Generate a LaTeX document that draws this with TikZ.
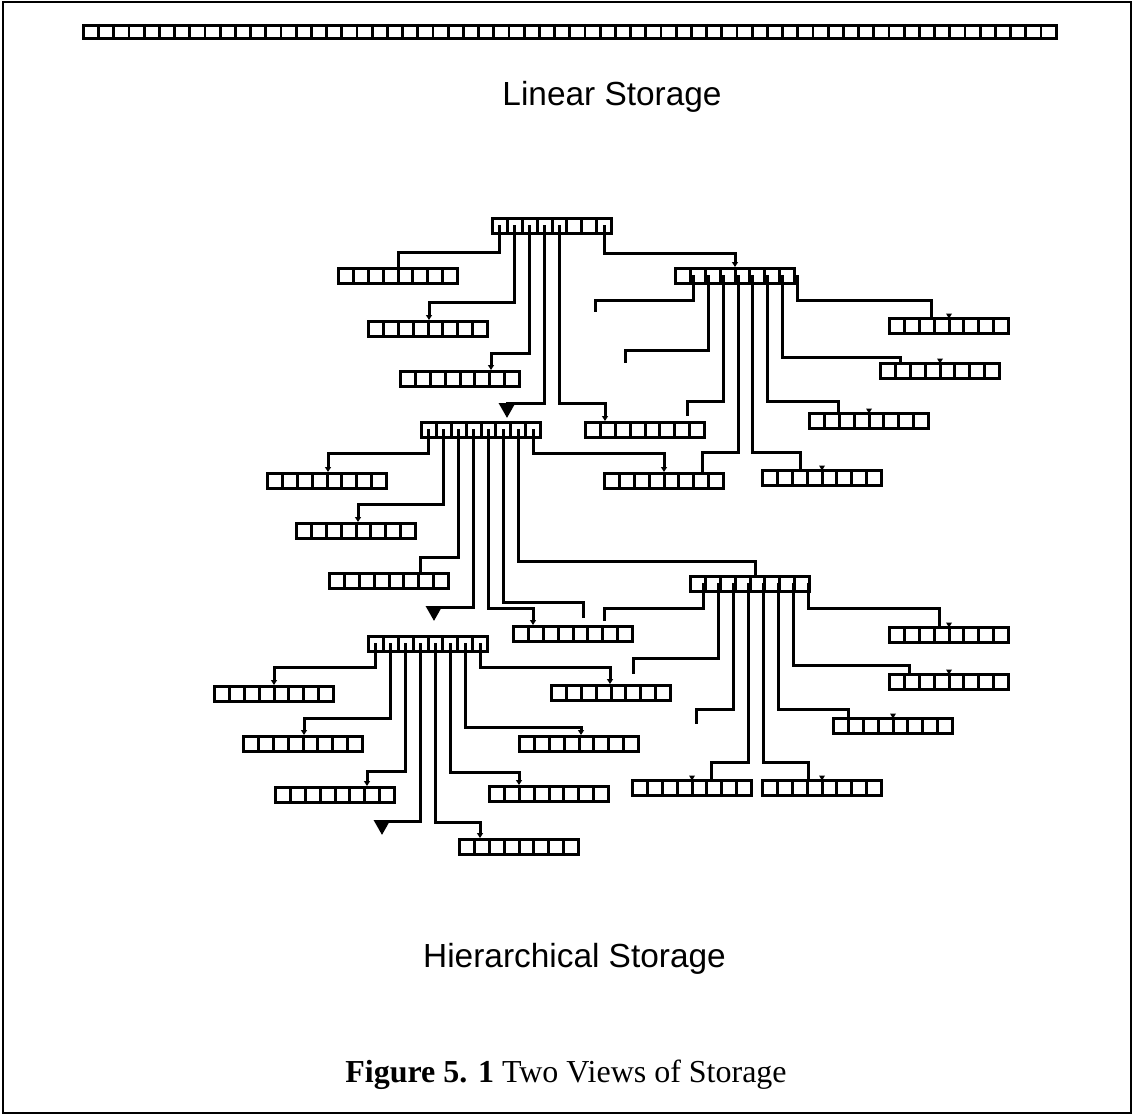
\documentclass[tikz,border=0pt]{standalone}
\usepackage{fontspec}
\setmainfont{Liberation Serif}
\newfontfamily\arialfont{Liberation Sans}
\usetikzlibrary{arrows.meta,calc}

\newcommand{\membox}[4]{%
  \node[memcell] (#1) at (#2,#3) {};
  \foreach \i in {1,...,7}
    \draw[wire] ([xshift=1.5pt+\i*14.875pt]#1.north west) -- ([xshift=1.5pt+\i*14.875pt]#1.south west);
  \foreach \i in {1,...,8}
    \coordinate (#1-\i) at ([xshift=1.5pt+\i*14.875pt-7.4pt+#4pt,yshift=-8pt]#1.north west);
}
\newcommand{\arrowmark}[1]{\fill ([xshift=61pt,yshift=-1.5pt]#1.north west) -- ++(-3,-5) -- ++(6,0) -- cycle;}

\begin{document}
\begin{tikzpicture}[x=1pt,y=-1pt,
  memcell/.style={draw,line width=3pt,minimum width=119pt,minimum height=15pt,
                  inner sep=0pt,outer sep=1.5pt,anchor=north west},
  wire/.style={line width=3pt},
  link/.style={line width=3pt},
  tip/.style={link,-{Triangle[length=5pt,width=6pt]}},
  bigtip/.style={link,-{Triangle[length=15pt,width=16pt]}},
  title/.style={font=\arialfont\fontsize{33.4}{40}\selectfont,anchor=base}]
\useasboundingbox (0,0) rectangle (1134,1116);
\draw[line width=1.5pt] (3,2) rectangle (1131,1113);

\node[draw,line width=2.8pt,minimum width=973pt,minimum height=13pt,
      inner sep=0pt,outer sep=1.4pt,anchor=north west] (strip) at (82,24) {};
\foreach \i in {1,...,63}
  \draw[line width=2.8pt] ([xshift=1.4pt+\i*15.2pt]strip.north west) -- ([xshift=1.4pt+\i*15.2pt]strip.south west);
\node[title] (lin) at (612,105) {Linear Storage};

\membox{top}{491}{217}{0}
\membox{topR}{674}{267}{10.5}
\membox{mid}{420}{421}{0}
\membox{midR}{689}{575}{6}
\membox{low}{367}{635}{0}
\membox{b1}{337}{267}{0}
\membox{b2}{367}{320}{0}
\membox{b3}{399}{370}{0}
\membox{b4}{584}{421}{0}
\membox{b5}{603}{472}{0}
\membox{b6}{761}{469}{0}
\membox{b7}{808}{412}{0}
\membox{b8}{879}{362}{0}
\membox{b9}{888}{317}{0}
\membox{b10}{266}{472}{0}
\membox{b11}{295}{522}{0}
\membox{b12}{328}{572}{0}
\membox{b13}{512}{625}{0}
\membox{b14}{550}{684}{0}
\membox{b15}{631}{779}{0}
\membox{b16}{761}{779}{0}
\membox{b17}{832}{717}{0}
\membox{b18}{888}{673}{0}
\membox{b19}{888}{626}{0}
\membox{b20}{213}{685}{0}
\membox{b21}{242}{735}{0}
\membox{b22}{274}{786}{0}
\membox{b23}{458}{838}{0}
\membox{b24}{488}{785}{0}
\membox{b25}{518}{735}{0}

\coordinate (d1) at (595,312);
\coordinate (d2) at (625,363);
\coordinate (d3) at (687,416);
\coordinate (d4) at (583,618);
\coordinate (d5) at (604,621);
\coordinate (d6) at (633,674);
\coordinate (d7) at (696,724);
\coordinate (d8) at (382,835);

\draw[link] (top-1) |- (398,252) -- (398,252 |- b1.north);
\draw[tip] (top-2) |- (429,302) -- (429,302 |- b2.north);
\draw[tip] (top-3) |- (491,353) -- (491,353 |- b3.north);
\draw[bigtip,shorten >=3pt] (top-4) |- (507,403) -- (507,403 |- mid.north);
\draw[tip] (top-5) |- (605,403) -- (605,403 |- b4.north);
\draw[tip] (top-8) |- (735,253) -- (735,253 |- topR.north);

\draw[link] (topR-1) |- (595,300) -- (d1);
\draw[link] (topR-2) |- (625,350) -- (d2);
\draw[link] (topR-3) |- (687,401) -- (d3);
\draw[link] (topR-4) |- (702,452) -- (702,452 |- b5.north);
\draw[link] (topR-5) |- (800,452) -- (800,452 |- b6.north);
\draw[link] (topR-6) |- (838,401) -- (838,401 |- b7.north);
\draw[link] (topR-7) |- (900,357) -- (900,357 |- b8.north);
\draw[link] (topR-8) |- (931,300) -- (931,300 |- b9.north);

\draw[tip] (mid-1) |- (328,453) -- (328,453 |- b10.north);
\draw[tip] (mid-2) |- (358,504) -- (358,504 |- b11.north);
\draw[link] (mid-3) |- (420,557) -- (420,557 |- b12.north);
\draw[bigtip,shorten >=14pt] (mid-4) |- (434,607) -- (434,607 |- low.north);
\draw[tip] (mid-5) |- (533,608) -- (533,608 |- b13.north);
\draw[link] (mid-6) |- (583,602) -- (d4);
\draw[link] (mid-7) |- (755,561) -- (755,561 |- midR.north);
\draw[tip] (mid-8) |- (664,453) -- (664,453 |- b5.north);

\draw[link] (midR-1) |- (604,608) -- (d5);
\draw[link] (midR-2) |- (633,658) -- (d6);
\draw[link] (midR-3) |- (696,709) -- (d7);
\draw[link] (midR-4) |- (711,762) -- (711,762 |- b15.north);
\draw[link] (midR-5) |- (808,762) -- (808,762 |- b16.north);
\draw[link] (midR-6) |- (848,709) -- (848,709 |- b17.north);
\draw[link] (midR-7) |- (909,665) -- (909,665 |- b18.north);
\draw[link] (midR-8) |- (939,608) -- (939,608 |- b19.north);

\draw[tip] (low-1) |- (274,667) -- (274,667 |- b20.north);
\draw[tip] (low-2) |- (304,718) -- (304,718 |- b21.north);
\draw[tip] (low-3) |- (367,771) -- (367,771 |- b22.north);
\draw[bigtip] (low-4) |- (382,821) -- (d8);
\draw[tip] (low-5) |- (480,822) -- (480,822 |- b23.north);
\draw[tip] (low-6) |- (519,772) -- (519,772 |- b24.north);
\draw[tip] (low-7) |- (581,727) -- (581,727 |- b25.north);
\draw[tip] (low-8) |- (610,667) -- (610,667 |- b14.north);

\arrowmark{b6}
\arrowmark{b7}
\arrowmark{b8}
\arrowmark{b9}
\arrowmark{b15}
\arrowmark{b16}
\arrowmark{b17}
\arrowmark{b18}
\arrowmark{b19}

\node[title] (hier) at (574.5,967) {Hierarchical Storage};
\node[font=\fontsize{32}{38}\selectfont,anchor=base] (cap) at (566,1082)
  {\textbf{Figure 5. 1} Two Views of Storage};
\end{tikzpicture}
\end{document}
